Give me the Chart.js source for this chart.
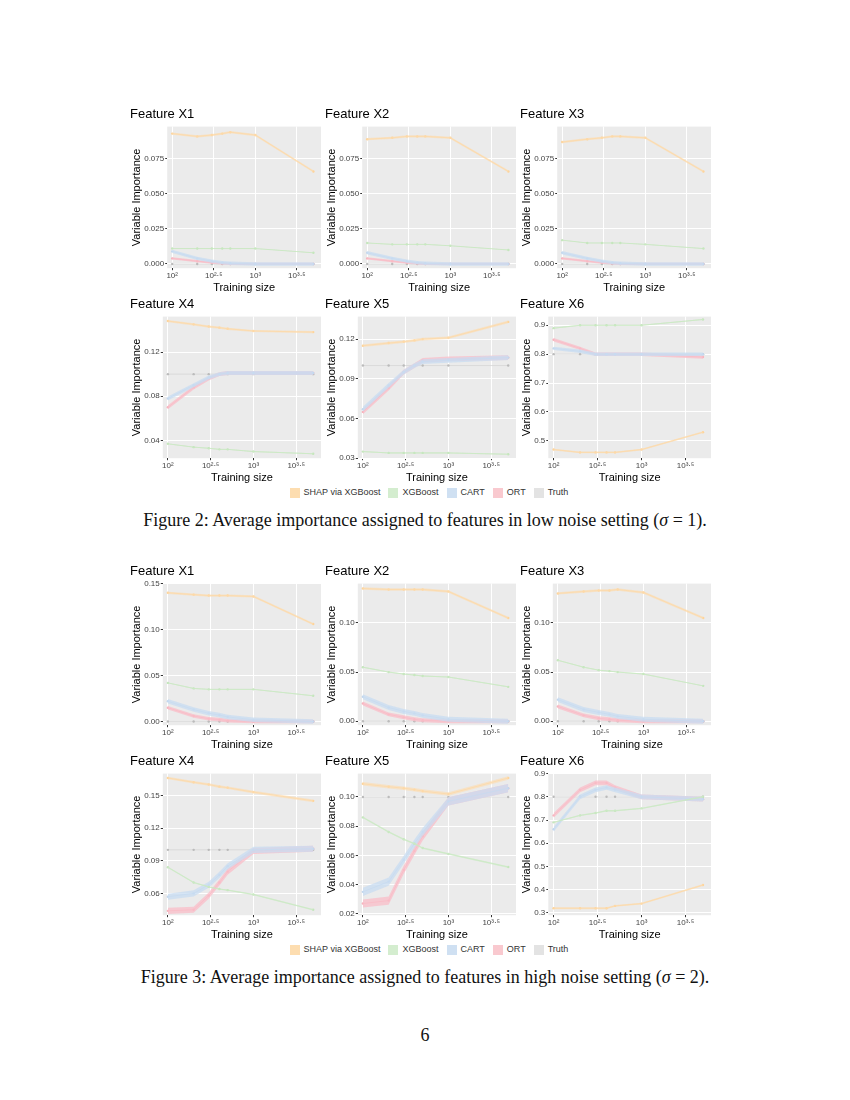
<!DOCTYPE html>
<html><head><meta charset="utf-8">
<script src="https://cdn.jsdelivr.net/npm/chart.js@4"></script>
<style>
body{margin:0;width:850px;height:1100px;background:#fff;position:relative;font-family:"Liberation Sans",Arial,sans-serif}
.p{position:absolute;width:195px;height:190px}
.cap{position:absolute;left:0;width:850px;text-align:center;font-family:"Liberation Serif","DejaVu Serif",serif;font-size:18px;color:#111}
.leg{position:absolute;left:0;width:850px;text-align:center;font-size:9px;color:#333}
.leg span{display:inline-block;width:10px;height:10px;vertical-align:middle;margin:0 4px 0 8px}
</style></head><body>
<div class="leg" style="top:487px"><span style="background:#FDDDB0"></span>SHAP via XGBoost<span style="background:#D4EDCF"></span>XGBoost<span style="background:#CFE0F2"></span>CART<span style="background:#F9C9CF"></span>ORT<span style="background:#E3E3E3"></span>Truth</div>
<div class="cap" style="top:510px">Figure 2: Average importance assigned to features in low noise setting (<i>σ</i> = 1).</div>
<div class="leg" style="top:944px"><span style="background:#FDDDB0"></span>SHAP via XGBoost<span style="background:#D4EDCF"></span>XGBoost<span style="background:#CFE0F2"></span>CART<span style="background:#F9C9CF"></span>ORT<span style="background:#E3E3E3"></span>Truth</div>
<div class="cap" style="top:967px">Figure 3: Average importance assigned to features in high noise setting (<i>σ</i> = 2).</div>
<div class="cap" style="top:1025px">6</div>
<script>
const trainingSizes=[100,200,300,400,500,1000,5000];
const xTicks=[2,2.5,3,3.5];
const xTickLabels=["10²","10²·⁵","10³","10³·⁵"];
const seriesNames=["SHAP via XGBoost","XGBoost","CART","ORT"];
const seriesLine=["#FDD49C","#C5E6BD","#C2D7EE","#F7B3BD"];
const seriesBand=["rgba(253,220,175,0.6)","rgba(205,235,198,0.6)","rgba(200,220,242,0.75)","rgba(249,190,200,0.75)"];
// Figure 2 (sigma=1)
const f2X1=[[0.093,0.091,0.092,0.093,0.094,0.092,0.066],[0.011,0.011,0.011,0.011,0.011,0.011,0.008],[0.009,0.004,0.002,0.001,0.0005,0,0],[0.004,0.002,0.001,0.0005,0,0,0]];
const f2X2=[[0.089,0.090,0.091,0.091,0.091,0.090,0.066],[0.015,0.014,0.014,0.014,0.014,0.013,0.010],[0.008,0.004,0.002,0.001,0.0005,0,0],[0.004,0.002,0.001,0.0005,0,0,0]];
const f2X3=[[0.087,0.089,0.090,0.091,0.091,0.090,0.066],[0.017,0.015,0.015,0.015,0.015,0.014,0.011],[0.008,0.004,0.002,0.001,0.0005,0,0],[0.004,0.002,0.001,0.0005,0,0,0]];
const f2X4=[[0.148,0.145,0.143,0.142,0.141,0.139,0.138],[0.037,0.034,0.033,0.032,0.032,0.030,0.028],[0.078,0.090,0.097,0.100,0.101,0.101,0.101],[0.070,0.088,0.096,0.100,0.101,0.101,0.101]];
const f2X5=[[0.115,0.117,0.118,0.119,0.120,0.121,0.133],[0.035,0.034,0.034,0.034,0.034,0.034,0.033],[0.067,0.085,0.095,0.100,0.103,0.104,0.106],[0.065,0.083,0.095,0.100,0.104,0.105,0.106]];
const f2X6=[[0.47,0.46,0.46,0.46,0.46,0.47,0.53],[0.89,0.90,0.90,0.90,0.90,0.90,0.92],[0.82,0.81,0.80,0.80,0.80,0.80,0.80],[0.85,0.82,0.80,0.80,0.80,0.80,0.79]];
// Figure 3 (sigma=2)
const f3X1=[[0.140,0.138,0.137,0.137,0.137,0.136,0.106],[0.042,0.036,0.035,0.035,0.035,0.035,0.028],[0.022,0.013,0.009,0.007,0.005,0.002,0],[0.015,0.006,0.003,0.002,0.001,0,0]];
const f3X2=[[0.135,0.134,0.134,0.134,0.134,0.132,0.105],[0.055,0.050,0.048,0.047,0.046,0.045,0.035],[0.025,0.014,0.010,0.008,0.006,0.002,0],[0.018,0.007,0.004,0.002,0.001,0,0]];
const f3X3=[[0.130,0.132,0.133,0.133,0.134,0.131,0.105],[0.062,0.055,0.052,0.051,0.050,0.048,0.036],[0.022,0.012,0.009,0.007,0.005,0.002,0],[0.015,0.006,0.003,0.002,0.001,0,0]];
const f3X4=[[0.166,0.162,0.160,0.158,0.157,0.153,0.145],[0.084,0.070,0.066,0.064,0.063,0.059,0.045],[0.057,0.060,0.068,0.077,0.085,0.100,0.101],[0.044,0.045,0.058,0.070,0.080,0.099,0.101]];
const f3X5=[[0.109,0.107,0.106,0.105,0.104,0.102,0.113],[0.086,0.076,0.071,0.068,0.065,0.061,0.052],[0.035,0.042,0.057,0.068,0.076,0.097,0.106],[0.027,0.029,0.050,0.063,0.073,0.097,0.106]];
const f3X6=[[0.32,0.32,0.32,0.32,0.33,0.34,0.42],[0.69,0.72,0.73,0.74,0.74,0.75,0.80],[0.66,0.80,0.83,0.84,0.83,0.80,0.79],[0.72,0.83,0.86,0.86,0.84,0.80,0.79]];
const truthX1to3=0, truthX4to5=0.1, truthX6=0.8;
// band half-widths per series [SHAP,XGB,CART,ORT]
const bandLowX1=[0.0008,0.0002,0.0012,0.0008], bandLowX4=[0.001,0.0004,0.0018,0.0018], bandLowX6=[0.003,0.002,0.006,0.006];
const bandHighX1=[0.0012,0.0005,0.0025,0.002], bandHighX4=[0.0012,0.0006,0.0028,0.0028], bandHighX6=[0.004,0.003,0.01,0.01];

const panels=[
 {t:"Feature X1",d:f2X1,tr:truthX1to3,b:bandLowX1,min:-0.003,max:0.098,st:0.025,dec:3,x:130,y:105},
 {t:"Feature X2",d:f2X2,tr:truthX1to3,b:bandLowX1,min:-0.003,max:0.098,st:0.025,dec:3,x:325,y:105},
 {t:"Feature X3",d:f2X3,tr:truthX1to3,b:bandLowX1,min:-0.003,max:0.098,st:0.025,dec:3,x:520,y:105},
 {t:"Feature X4",d:f2X4,tr:truthX4to5,b:bandLowX4,min:0.024,max:0.152,st:0.04,dec:2,x:130,y:295},
 {t:"Feature X5",d:f2X5,tr:truthX4to5,b:bandLowX4,min:0.03,max:0.137,st:0.03,dec:2,x:325,y:295},
 {t:"Feature X6",d:f2X6,tr:truthX6,b:bandLowX6,min:0.44,max:0.93,st:0.1,dec:1,x:520,y:295},
 {t:"Feature X1",d:f3X1,tr:truthX1to3,b:bandHighX1,min:-0.004,max:0.15,st:0.05,dec:2,x:130,y:562},
 {t:"Feature X2",d:f3X2,tr:truthX1to3,b:bandHighX1,min:-0.004,max:0.14,st:0.05,dec:2,x:325,y:562},
 {t:"Feature X3",d:f3X3,tr:truthX1to3,b:bandHighX1,min:-0.004,max:0.14,st:0.05,dec:2,x:520,y:562},
 {t:"Feature X4",d:f3X4,tr:truthX4to5,b:bandHighX4,min:0.04,max:0.17,st:0.03,dec:2,x:130,y:752},
 {t:"Feature X5",d:f3X5,tr:truthX4to5,b:bandHighX4,min:0.019,max:0.116,st:0.02,dec:2,x:325,y:752},
 {t:"Feature X6",d:f3X6,tr:truthX6,b:bandHighX6,min:0.29,max:0.9,st:0.1,dec:1,x:520,y:752}
];
const bgPlugin={id:'bg',beforeDraw(c){const a=c.chartArea,g=c.ctx;g.save();g.fillStyle='#EBEBEB';g.fillRect(a.left,a.top,a.right-a.left,a.bottom-a.top);g.restore();}};
const lx=trainingSizes.map(Math.log10);
panels.forEach(p=>{
 const cv=document.createElement('canvas');const dv=document.createElement('div');dv.className='p';dv.style.left=p.x+'px';dv.style.top=p.y+'px';dv.appendChild(cv);document.body.appendChild(dv);
 const ds=[];
 p.d.forEach((s,i)=>{
  ds.push({data:s.map((v,k)=>({x:lx[k],y:v-p.b[i]})),borderWidth:0,borderColor:'rgba(0,0,0,0)',pointRadius:0,fill:false});
  ds.push({data:s.map((v,k)=>({x:lx[k],y:v+p.b[i]})),borderWidth:0,borderColor:'rgba(0,0,0,0)',pointRadius:0,fill:'-1',backgroundColor:seriesBand[i]});
  ds.push({label:seriesNames[i],data:s.map((v,k)=>({x:lx[k],y:v})),borderColor:seriesLine[i],borderWidth:0.8,pointRadius:1.2,pointBackgroundColor:seriesLine[i],pointBorderWidth:0,fill:false});
 });
 ds.push({label:"Truth",data:lx.map(x=>({x,y:p.tr})),borderColor:'#D6D6D6',borderWidth:0.8,pointRadius:1.2,pointBackgroundColor:'#BBBBBB',pointBorderWidth:0,fill:false});
 new Chart(cv,{type:'line',data:{datasets:ds},plugins:[bgPlugin],options:{responsive:true,maintainAspectRatio:false,animation:false,
  layout:{padding:{right:4}},
  plugins:{legend:{display:false},tooltip:{enabled:false},title:{display:true,text:p.t,align:'start',color:'#000',font:{size:13,weight:'normal',family:'Liberation Sans'},padding:{top:2,bottom:4}}},
  scales:{x:{type:'linear',min:1.94,max:3.79,afterBuildTicks:a=>{a.ticks=xTicks.map(v=>({value:v}))},
    ticks:{callback:v=>xTickLabels[xTicks.indexOf(v)],color:'#444',font:{size:8},maxRotation:0,padding:1},
    grid:{color:'#fff',drawTicks:true,tickLength:2,tickColor:'#333'},border:{display:false},
    title:{display:true,text:'Training size',color:'#000',font:{size:11},padding:0}},
   y:{min:p.min,max:p.max,
    afterBuildTicks:a=>{const t=[];for(let v=Math.ceil(p.min/p.st-1e-9)*p.st;v<=p.max+1e-9;v+=p.st)t.push({value:+v.toFixed(6)});a.ticks=t;},
    ticks:{callback:v=>v.toFixed(p.dec),color:'#444',font:{size:8},padding:1},
    grid:{color:'#fff',tickLength:2,tickColor:'#333'},border:{display:false},
    title:{display:true,text:'Variable Importance',color:'#000',font:{size:11},padding:0}}}}});
});
</script></body></html>
